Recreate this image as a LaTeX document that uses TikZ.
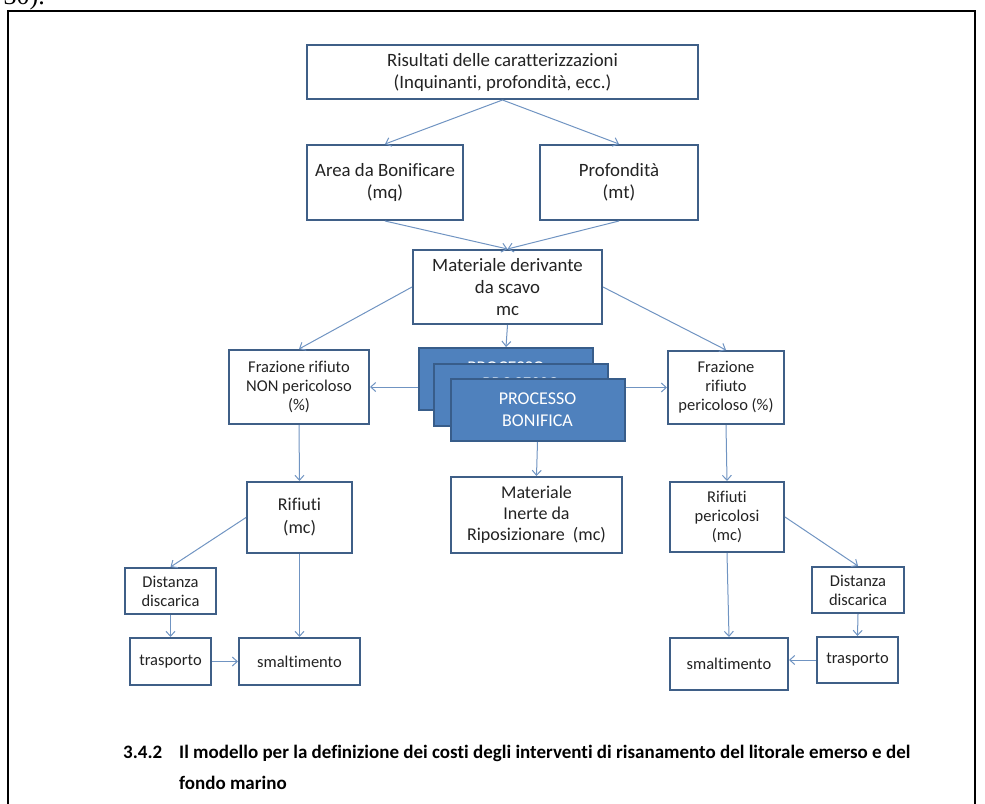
\documentclass[tikz,border=0pt]{standalone}
\usepackage{fontspec}
\setmainfont{Carlito}[Ligatures={NoCommon}]
\newfontfamily\oldserif{Liberation Serif}
\usetikzlibrary{arrows.meta}
\definecolor{boxline}{RGB}{63,95,135}
\definecolor{conline}{RGB}{112,148,194}
\definecolor{procfill}{RGB}{79,129,189}
\definecolor{procline}{RGB}{56,93,138}
\definecolor{boxtext}{RGB}{35,35,35}
\begin{document}
\begin{tikzpicture}[x=1pt,y=-1pt,
  box/.style={draw=boxline,line width=2pt,fill=white,align=center,inner sep=0pt,text=boxtext},
  big/.style={box,font=\fontsize{18.8}{22}\selectfont},
  mid/.style={box,font=\fontsize{18}{21}\selectfont},
  small/.style={box,font=\fontsize{16.5}{19}\selectfont},
  proc/.style={draw=procline,line width=2pt,fill=procfill,minimum width=174pt,minimum height=62pt,inner sep=0pt,text=white,align=center,font=\fontsize{18}{22}\selectfont},
  conn/.style={draw=conline,line width=1pt,-{Straight Barb[length=5pt,width=9pt]}},
  captxt/.style={anchor=base west,inner sep=0pt,font=\bfseries\fontsize{19}{22}\selectfont}]
\useasboundingbox (0,0) rectangle (985,803);
\node[anchor=base east,inner sep=0pt,font=\oldserif\fontsize{26}{26}\selectfont] (num) at (45,5) {30).};
\draw[line width=1.6pt] (8,820)--(8,11)--(975,11)--(975,820);
\node[big,minimum width=391pt,minimum height=54pt] (ris) at (502.5,72) {Risultati delle caratterizzazioni\\(Inquinanti, profondità, ecc.)};
\node[big,minimum width=156pt,minimum height=75pt] (area) at (385,182.5) {Area da Bonificare\\(mq)};
\node[big,minimum width=158pt,minimum height=75pt] (prof) at (619,182.5) {Profondità\\(mt)};
\node[big,minimum width=189pt,minimum height=74pt] (mat) at (507.5,287) {Materiale derivante\\da scavo\\mc};
\node[small,minimum width=140pt,minimum height=74pt] (fnp) at (299,387) {Frazione rifiuto\\NON pericoloso\\(\%)};
\node[small,minimum width=116pt,minimum height=73pt] (fp) at (726,387.5) {Frazione\\rifiuto\\pericoloso (\%)};
\node[proc] (b1) at (506,379) {PROCESSO\\BONIFICA};
\node[proc] (b2) at (521,395) {PROCESSO\\BONIFICA};
\node[proc] (b3) at (537.5,410) {PROCESSO\\BONIFICA};
\node[mid,minimum width=171pt,minimum height=76pt] (inerte) at (536.5,515) {Materiale\\Inerte da\\Riposizionare~~(mc)};
\node[mid,font=\fontsize{18}{23}\selectfont,minimum width=105pt,minimum height=71pt] (rif) at (299.5,517.5) {Rifiuti\\(mc)};
\node[small,minimum width=114pt,minimum height=70pt] (rifp) at (727,517) {Rifiuti\\pericolosi\\(mc)};
\node[small,minimum width=91pt,minimum height=46pt] (dist1) at (170.5,591) {Distanza\\discarica};
\node[small,minimum width=92pt,minimum height=46pt] (dist2) at (858,590) {Distanza\\discarica};
\node[small,minimum width=81pt,minimum height=47pt] (tr1) at (170.5,661.5) {trasporto};
\node[small,minimum width=121pt,minimum height=47pt] (sm1) at (299.5,661.5) {smaltimento};
\node[small,minimum width=118pt,minimum height=52pt] (sm2) at (729,664) {smaltimento};
\node[small,minimum width=81pt,minimum height=46pt] (tr2) at (857.5,660) {trasporto};
\draw[conn] (ris.south) -- (area.north);
\draw[conn] (ris.south) -- (prof.north);
\draw[conn] (area.south) -- (mat.north);
\draw[conn] (prof.south) -- (mat.north);
\draw[conn] (mat.west) -- (fnp.north);
\draw[conn] (mat.east) -- (fp.north);
\draw[conn] (mat.south) -- (b1.north);
\draw[conn] (b1.west |- fnp.east) -- (fnp.east);
\draw[conn] (b3.east |- fp.west) -- (fp.west);
\draw[conn] (b3.south) -- (inerte.north);
\draw[conn] (fnp.south) -- (rif.north);
\draw[conn] (fp.south) -- (rifp.north);
\draw[conn] (rif.west) -- (dist1.north);
\draw[conn] (rif.south) -- (sm1.north);
\draw[conn] (dist1.south) -- (tr1.north);
\draw[conn] (tr1.east) -- (sm1.west);
\draw[conn] (rifp.east) -- (dist2.north);
\draw[conn] (rifp.south) -- (sm2.north);
\draw[conn] (dist2.south) -- (tr2.north);
\draw[conn] (tr2.west) -- (sm2.east |- tr2.west);
\node[captxt] (secnum) at (123,758) {3.4.2};
\node[captxt] (cap1) at (179,758) {Il modello per la definizione dei costi degli interventi di risanamento del litorale emerso e del};
\node[captxt] (cap2) at (179,789) {fondo marino};
\end{tikzpicture}
\end{document}
